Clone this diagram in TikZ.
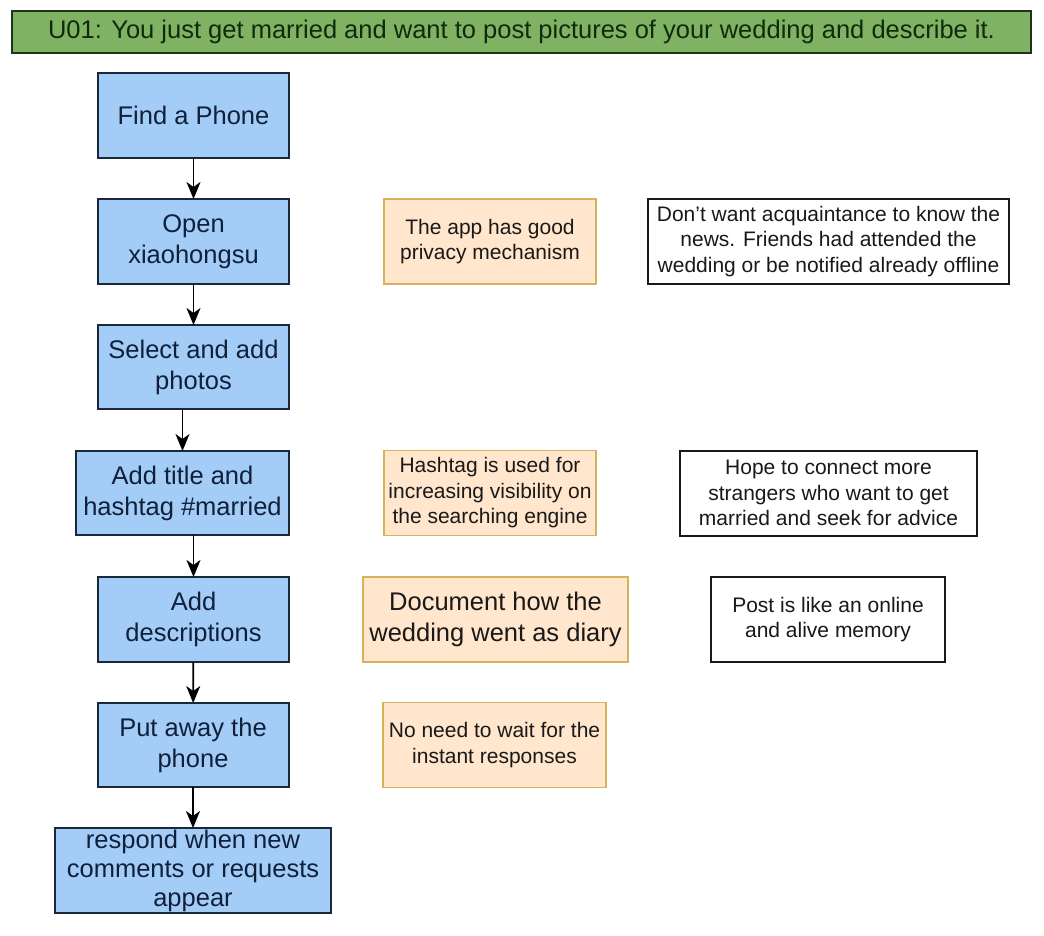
\documentclass[tikz,border=0pt]{standalone}
\usepackage{fontspec}
\setmainfont{Liberation Sans}
\usetikzlibrary{arrows.meta}
\definecolor{stepfill}{HTML}{A3CCF7}
\definecolor{stepline}{HTML}{1B2838}
\definecolor{steptext}{HTML}{10203A}
\definecolor{headfill}{HTML}{80B264}
\definecolor{headline}{HTML}{1E3318}
\definecolor{headtext}{HTML}{102A0C}
\definecolor{whyfill}{HTML}{FFE6CC}
\definecolor{whyline}{HTML}{D6B35A}
\begin{document}
\begin{tikzpicture}[x=1pt, y=-1pt,
    bigtext/.style={font=\fontsize{25.5}{31}\selectfont},
    smalltext/.style={font=\fontsize{21}{25.5}\selectfont},
    stepbox/.style={bigtext, draw=stepline, fill=stepfill, text=steptext, line width=2pt,
      align=center, inner sep=0pt, outer sep=0pt, minimum width=191pt, minimum height=85pt},
    whybox/.style={smalltext, draw=whyline, fill=whyfill, text=black!90, line width=1.8pt,
      align=center, inner sep=0pt, outer sep=0pt, minimum height=85pt},
    notebox/.style={smalltext, draw=black!90, fill=white, text=black!90, line width=2pt,
      align=center, inner sep=0pt, outer sep=0pt, minimum height=85pt},
    arr/.style={line width=1.8pt, -{Stealth[length=17pt, width=14pt, inset=5pt]}}]
  \useasboundingbox (0,0) rectangle (1044,936);

  % Scenario header
  \node[bigtext, draw=headline, fill=headfill, text=headtext, line width=2pt, inner sep=0pt,
    minimum width=1019pt, minimum height=42pt] (head) at (521.5,32)
    {U01: You just get married and want to post pictures of your wedding and describe it.};

  % Steps of the journey
  \node[stepbox] (find) at (193.5,115.5) {Find a Phone};
  \node[stepbox] (open) at (193.5,241.5) {Open\\xiaohongsu};
  \node[stepbox, minimum height=84pt] (photos) at (193.5,367) {Select and add\\photos};
  \node[stepbox, minimum width=213pt, minimum height=84pt] (tag) at (182.5,493) {Add title and\\hashtag \#married};
  \node[stepbox] (desc) at (193.5,619.5) {Add\\descriptions};
  \node[stepbox, minimum height=84pt] (away) at (193,745) {Put away the\\phone};
  \node[stepbox, minimum width=276pt, font=\fontsize{25.5}{29}\selectfont] (respond) at (193,870.5)
    {respond when new\\comments or requests\\appear};

  % Reasons
  \node[whybox, minimum width=212pt] (privacy) at (490,241.5) {The app has good\\privacy mechanism};
  \node[whybox, minimum width=212pt] (search) at (490,493) {Hashtag is used for\\increasing visibility on\\the searching engine};
  \node[whybox, bigtext, minimum width=265pt] (diary) at (495.5,619.5) {Document how the\\wedding went as diary};
  \node[whybox, minimum width=223pt] (instant) at (494.5,745) {No need to wait for the\\instant responses};

  % Feelings
  \node[notebox, minimum width=361pt] (news) at (828.5,241.5) {Don't want acquaintance to know the\\news. Friends had attended the\\wedding or be notified already offline};
  \node[notebox, minimum width=297pt] (hope) at (828.5,493) {Hope to connect more\\strangers who want to get\\married and seek for advice};
  \node[notebox, minimum width=234pt] (memory) at (828,619.5) {Post is like an online\\and alive memory};

  % Flow
  \draw[arr] (find) -- (open);
  \draw[arr] (open) -- (photos);
  \draw[arr] (photos.south -| tag.north) -- (tag.north);
  \draw[arr] (tag.south -| desc.north) -- (desc.north);
  \draw[arr] (desc) -- (away);
  \draw[arr] (away) -- (respond);
\end{tikzpicture}
\end{document}
